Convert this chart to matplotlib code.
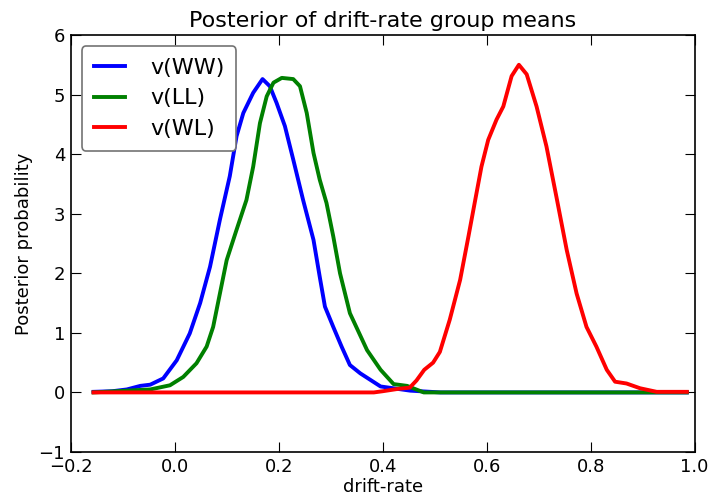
import matplotlib
matplotlib.use("Agg")
import matplotlib.pyplot as plt

ww_x = [-0.156, -0.12, -0.092, -0.066, -0.047, -0.022, 0.004, 0.029, 0.049, 0.068, 0.087,
        0.106, 0.119, 0.132, 0.151, 0.169, 0.183, 0.196, 0.212, 0.228, 0.247, 0.267, 0.279,
        0.289, 0.305, 0.321, 0.337, 0.357, 0.396, 0.453, 0.511, 0.6, 0.7, 0.8, 0.9, 0.985]
ww_y = [0.01, 0.02, 0.05, 0.11, 0.13, 0.235, 0.54, 0.99, 1.50, 2.11, 2.90,
        3.63, 4.30, 4.69, 5.03, 5.26, 5.14, 4.86, 4.47, 3.91, 3.23, 2.56, 1.94,
        1.44, 1.10, 0.77, 0.46, 0.32, 0.10, 0.03, 0.0, 0.0, 0.0, 0.0, 0.0, 0.0]

ll_x = [-0.156, -0.092, -0.047, -0.009, 0.0165, 0.042, 0.0615, 0.074, 0.087, 0.100, 0.119,
        0.138, 0.151, 0.164, 0.177, 0.190, 0.206, 0.228, 0.241, 0.254, 0.267, 0.279,
        0.292, 0.305, 0.318, 0.337, 0.370, 0.396, 0.421, 0.447, 0.479, 0.6, 0.7, 0.8,
        0.9, 0.985]
ll_y = [0.0, 0.03, 0.05, 0.12, 0.26, 0.49, 0.77, 1.10, 1.66, 2.22, 2.73,
        3.23, 3.79, 4.52, 4.97, 5.20, 5.28, 5.26, 5.14, 4.69, 4.02, 3.57,
        3.18, 2.62, 2.00, 1.33, 0.71, 0.38, 0.14, 0.11, 0.0, 0.0, 0.0, 0.0,
        0.0, 0.0]

wl_x = [-0.156, 0.0, 0.2, 0.383, 0.40, 0.43, 0.452, 0.465, 0.48, 0.497, 0.510, 0.529,
        0.549, 0.565, 0.578, 0.590, 0.603, 0.619, 0.632, 0.648, 0.662, 0.677, 0.696,
        0.715, 0.734, 0.754, 0.773, 0.792, 0.811, 0.831, 0.847, 0.869, 0.895, 0.927,
        0.972, 0.985]
wl_y = [0.0, 0.0, 0.0, 0.0, 0.02, 0.06, 0.08, 0.20, 0.38, 0.50, 0.68, 1.22,
        1.89, 2.62, 3.23, 3.79, 4.24, 4.58, 4.80, 5.31, 5.50, 5.34, 4.80,
        4.13, 3.29, 2.39, 1.66, 1.10, 0.77, 0.38, 0.18, 0.15, 0.07, 0.01,
        0.01, 0.01]

labels = ["v(WW)", "v(LL)", "v(WL)"]
colors = ["blue", "green", "red"]

fig = plt.figure(figsize=(7.11, 5.0), dpi=100)
ax = fig.add_axes([0.0994, 0.096, 0.8776, 0.834])
for xs, ys, lab, c in zip([ww_x, ll_x, wl_x], [ww_y, ll_y, wl_y], labels, colors):
    ax.plot(xs, ys, color=c, lw=2.8, label=lab, solid_joinstyle="round")

ax.set_xlim(-0.2, 1.0)
ax.set_ylim(-1, 6)
ax.set_xticks([-0.2, 0.0, 0.2, 0.4, 0.6, 0.8, 1.0])
ax.set_yticks(range(-1, 7))
ax.tick_params(direction="in", top=True, right=True, length=7, labelsize=13, pad=4)
for s in ax.spines.values():
    s.set_linewidth(1.2)
ax.set_title("Posterior of drift-rate group means", fontsize=16)
ax.set_xlabel("drift-rate", fontsize=13, labelpad=2)
ax.set_ylabel("Posterior probability", fontsize=13)
leg = ax.legend(loc="upper left", fontsize=16, handlelength=1.4, handletextpad=1.13,
                labelspacing=0.46, borderpad=0.54, borderaxespad=0.5,
                fancybox=True, framealpha=1)
leg.get_frame().set_edgecolor("0.45")
leg.get_frame().set_linewidth(1.2)
fig.savefig("out.png", dpi=100)
